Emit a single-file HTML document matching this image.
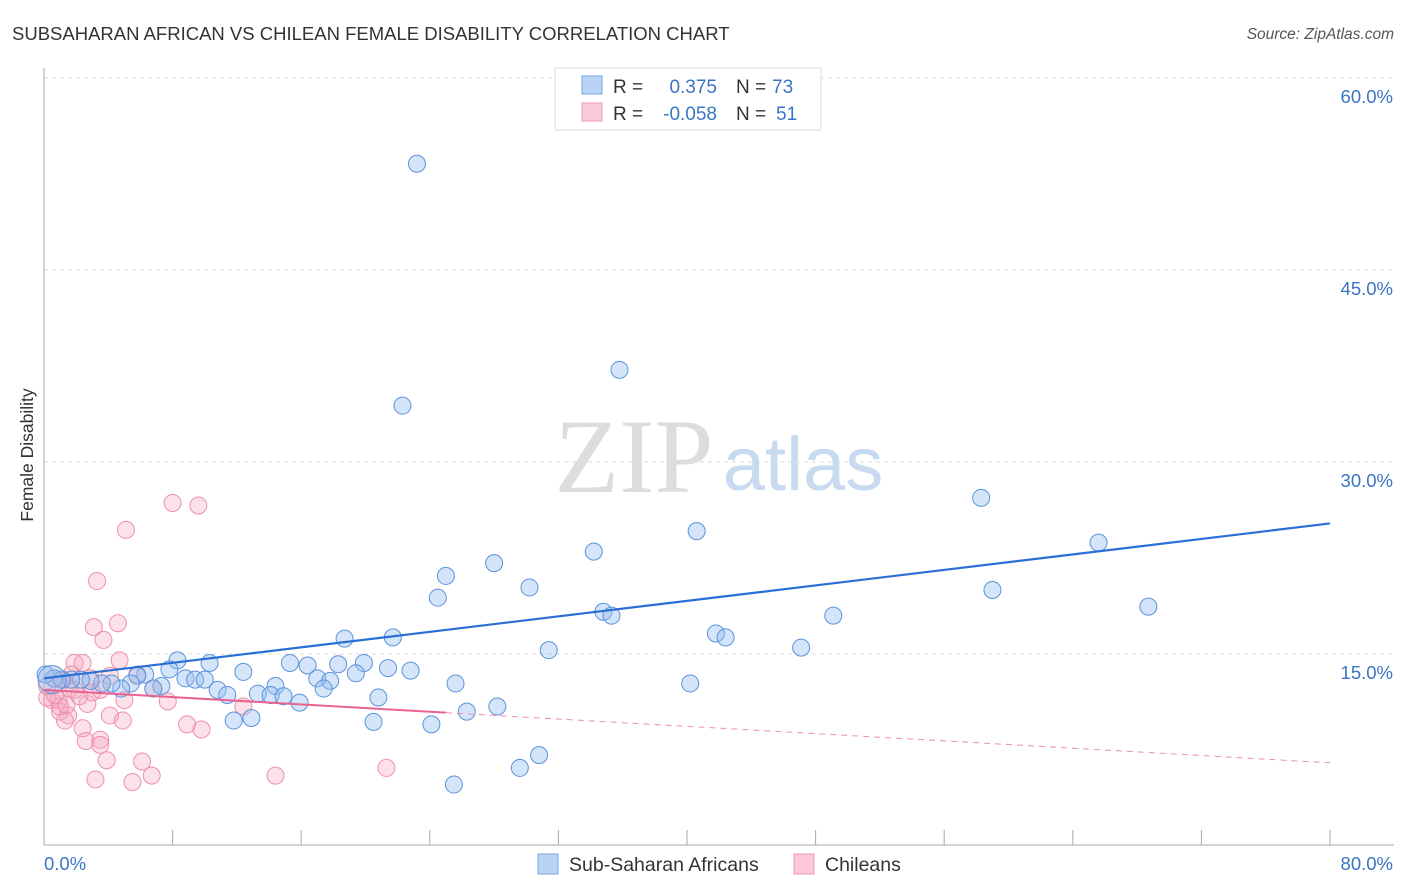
<!DOCTYPE html>
<html><head><meta charset="utf-8">
<style>
body{margin:0;background:#fff;font-family:"Liberation Sans",sans-serif;}
svg{display:block}
</style></head>
<body>
<svg id="chart" width="1406" height="892">
<text x="12" y="40" font-size="18.5" fill="#333">SUBSAHARAN AFRICAN VS CHILEAN FEMALE DISABILITY CORRELATION CHART</text>
<text x="1394" y="39" font-size="15.5" fill="#555" font-style="italic" text-anchor="end">Source: ZipAtlas.com</text>
<text transform="translate(33,455) rotate(-90)" font-size="17.5" fill="#333" text-anchor="middle">Female Disability</text>
<g>
<text x="634" y="492" font-size="106" fill="#ddd" font-family="Liberation Serif,serif" text-anchor="middle">ZIP</text>
<text x="803" y="490" font-size="76" fill="#c8daf0" text-anchor="middle">atlas</text>
</g>
<g id="grid"></g>
<g id="pts"></g>
<g id="lines"></g>
<g>
<rect x="555" y="68" width="266" height="62" fill="#fff" stroke="#ddd"/>
<rect x="582" y="76" width="20" height="18" fill="#b9d3f5" stroke="#7aa6e0"/>
<rect x="582" y="103" width="20" height="18" fill="#fac8d6" stroke="#ee9ab3"/>
<text x="613" y="93" font-size="19" fill="#333">R =</text>
<text x="717" y="93" font-size="19" fill="#3a75c4" text-anchor="end">0.375</text>
<text x="736" y="93" font-size="19" fill="#333">N =</text>
<text x="772" y="93" font-size="19" fill="#3a75c4">73</text>
<text x="613" y="120" font-size="19" fill="#333">R =</text>
<text x="717" y="120" font-size="19" fill="#3a75c4" text-anchor="end">-0.058</text>
<text x="736" y="120" font-size="19" fill="#333">N =</text>
<text x="776" y="120" font-size="19" fill="#3a75c4">51</text>
</g>
<g>
<rect x="538" y="854" width="20" height="20" fill="#b9d3f5" stroke="#7aa6e0"/>
<text x="569" y="871" font-size="19.5" fill="#333">Sub-Saharan Africans</text>
<rect x="794" y="854" width="20" height="20" fill="#fac8d6" stroke="#ee9ab3"/>
<text x="825" y="871" font-size="19.5" fill="#333">Chileans</text>
</g>
</svg>
<script>
const yTicks=[15,30,45,60];
const xTickVals=[8,16,24,32,40,48,56,64,72,80];
const blueX=[23.2,35.8,22.3,58.3,40.6,65.6,34.2,28.0,25.0,30.2,59.0,24.5,68.7,34.8,35.3,49.1,41.8,42.4,18.7,21.7,31.4,47.1,8.3,10.3,15.3,16.4,18.3,19.9,21.4,22.8,12.4,7.8,6.3,5.8,8.8,9.4,10.0,17.0,17.8,19.4,25.6,40.2,14.4,10.8,11.4,13.3,14.1,14.9,15.9,20.8,17.4,7.3,6.8,5.4,4.8,4.2,3.6,2.9,2.3,1.7,1.1,0.6,0.1,28.2,26.3,11.8,12.9,20.5,24.1,30.8,29.6,25.5];
const blueY=[53.3,37.2,34.4,27.2,24.6,23.7,23.0,22.1,21.1,20.2,20.0,19.4,18.7,18.3,18.0,18.0,16.6,16.3,16.2,16.3,15.3,15.5,14.5,14.3,14.3,14.1,14.2,14.3,13.9,13.7,13.6,13.8,13.4,13.3,13.1,13.0,13.0,13.1,12.9,13.5,12.7,12.7,12.5,12.2,11.8,11.9,11.8,11.7,11.2,11.6,12.3,12.5,12.3,12.7,12.3,12.7,12.7,12.9,13.0,13.0,13.0,13.1,13.4,10.9,10.5,9.8,10.0,9.7,9.5,7.1,6.1,4.8];
const pinkX=[8.0,9.6,5.1,3.3,4.6,3.1,3.7,4.7,1.9,2.4,5.8,4.1,0.7,1.2,2.9,6.8,7.7,5.0,2.7,1.6,2.2,0.5,0.9,0.2,1.0,1.5,1.3,4.1,4.9,12.4,8.9,9.8,2.4,2.6,3.5,3.5,3.9,6.1,6.7,3.2,5.5,14.4,21.3,1.0,0.7,1.9,1.4,3.0,0.2,1.7,3.5];
const pinkY=[26.8,26.6,24.7,20.7,17.4,17.1,16.1,14.5,14.3,14.3,13.4,13.3,13.1,13.0,13.1,12.3,11.3,11.4,11.1,12.3,11.7,11.4,11.4,11.6,10.5,10.2,9.8,10.2,9.8,10.9,9.5,9.1,9.2,8.2,8.3,7.9,6.7,6.6,5.5,5.2,5.0,5.5,6.1,10.9,11.8,12.2,11.0,12.0,12.5,13.4,12.2];
const blueTrend=[13.1,25.2];
const pinkTrend=[12.2,6.5];
const pinkSolidEnd=25;
const NS='http://www.w3.org/2000/svg';
const sx=v=>44+v*16.075, sy=v=>846-v*12.8;
function mk(tag,attrs,parent){const e=document.createElementNS(NS,tag);for(const k in attrs)e.setAttribute(k,attrs[k]);parent.appendChild(e);return e;}
const grid=document.getElementById('grid');
yTicks.forEach(t=>{
 const l=mk('line',{x1:44,x2:1394,y1:sy(t),y2:sy(t),stroke:'#ddd','stroke-dasharray':'4,4'},grid);
 
 
 const tx=mk('text',{x:1393,y:sy(t)+25,'font-size':18.5,fill:'#3a75c4','text-anchor':'end'},grid);
 tx.textContent=t.toFixed(1)+'%';
 
 
});
const ax=mk('line',{x1:44,x2:44,y1:68,y2:845,stroke:'#aaa'},grid);


const bx=mk('line',{x1:44,x2:1394,y1:845,y2:845,stroke:'#aaa'},grid);


xTickVals.forEach(t=>{
 const l=mk('line',{x1:sx(t),x2:sx(t),y1:830,y2:845,stroke:'#aaa'},grid);
 
 
});
const x0=mk('text',{x:44,y:870,'font-size':18.5,fill:'#3a75c4'},grid);x0.textContent='0.0%';


const x1=mk('text',{x:1393,y:870,'font-size':18.5,fill:'#3a75c4','text-anchor':'end'},grid);x1.textContent='80.0%';


const pts=document.getElementById('pts');
pinkX.forEach((x,i)=>{
 const c=mk('circle',{cx:sx(x),cy:sy(pinkY[i]),r:8.5,fill:'rgba(247,168,192,0.35)',stroke:'#ee8fae','stroke-width':1},pts);
 
 
});
blueX.forEach((x,i)=>{
 const c=mk('circle',{cx:sx(x),cy:sy(blueY[i]),r:8.5,fill:'rgba(150,190,240,0.4)',stroke:'#5b93dc','stroke-width':1},pts);
 
 
});
const big=mk('circle',{cx:sx(0.5),cy:sy(13.0),r:14,fill:'rgba(150,190,240,0.4)',stroke:'#5b93dc'},pts);


const lines=document.getElementById('lines');
const bl=mk('line',{x1:sx(0),y1:sy(blueTrend[0]),x2:sx(80),y2:sy(blueTrend[1]),stroke:'#2a6fd6','stroke-width':2.2},lines);


const pAt=v=>pinkTrend[0]+(pinkTrend[1]-pinkTrend[0])*v/80;
const pl=mk('line',{x1:sx(0),y1:sy(pinkTrend[0]),x2:sx(pinkSolidEnd),y2:sy(pAt(pinkSolidEnd)),stroke:'#e8638f','stroke-width':2},lines);


const pd=mk('line',{x1:sx(pinkSolidEnd),y1:sy(pAt(pinkSolidEnd)),x2:sx(80),y2:sy(pinkTrend[1]),stroke:'#eb8fae','stroke-width':1,'stroke-dasharray':'6,5'},lines);


</script>
</body></html>
